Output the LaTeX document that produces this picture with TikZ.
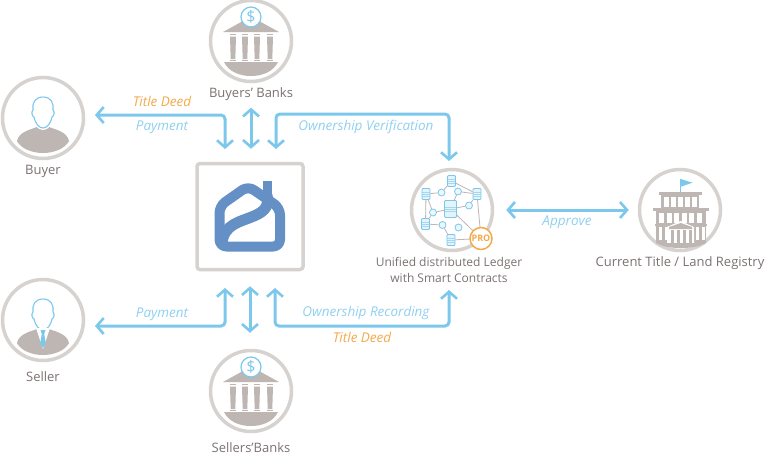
\documentclass[tikz,border=0pt]{standalone}
\usepackage{fontspec}
\setmainfont{Open Sans}
\usetikzlibrary{arrows.meta}
\definecolor{flowblue}{HTML}{7CC8EC}
\definecolor{lightblue}{HTML}{8FD0F0}
\definecolor{ringgrey}{HTML}{D6D2CF}
\definecolor{iconBrown}{HTML}{BDB6B2}
\definecolor{textgrey}{HTML}{7A7270}
\definecolor{deedorange}{HTML}{F4A94B}
\definecolor{logoblue}{HTML}{6490C5}
\tikzset{
  ring/.style={draw=ringgrey, line width=3.5pt, circle, fill=white, minimum size=81pt, inner sep=0pt},
  flow/.style={draw=flowblue, line width=3pt, rounded corners=4pt},
  caption/.style={text=textgrey, font=\fontsize{13}{16}\selectfont, align=center, inner sep=0pt},
  flowtext/.style={text=lightblue, font=\fontsize{13.5}{15}\selectfont\itshape, inner sep=0pt},
  deedtext/.style={text=deedorange, font=\fontsize{13.5}{15}\selectfont\itshape, inner sep=0pt},
  docnode/.style={draw=flowblue, fill=flowblue!20, line width=0.8pt, rounded corners=1pt, inner sep=0pt, minimum width=8pt, minimum height=11pt,
    path picture={\foreach \k in {-2,0,2} \draw[flowblue!70, line width=0.4pt] ([yshift=\k pt]path picture bounding box.west) -- ([yshift=\k pt]path picture bounding box.east);}},
  bigdoc/.style={docnode, minimum width=12pt, minimum height=17pt},
  coinnode/.style={draw=flowblue, fill=flowblue!15, line width=0.8pt, circle, inner sep=0pt, minimum size=7pt},
  personicon/.pic={
    \fill[iconBrown] (-26,23) .. controls (-24,14) and (-14,12) .. (-6,9) -- (6,9) .. controls (14,12) and (24,14) .. (26,23)
      .. controls (22,31) and (10,35) .. (0,35) .. controls (-10,35) and (-22,31) .. (-26,23) -- cycle;
    \draw[white, line width=4pt, fill=white] (0,-21) .. controls (-8,-21) and (-11,-15) .. (-10,-8) .. controls (-12,-6) and (-11,-2) .. (-9,-1)
      .. controls (-8,5) and (-4,10) .. (0,10) .. controls (4,10) and (8,5) .. (9,-1) .. controls (11,-2) and (12,-6) .. (10,-8)
      .. controls (11,-15) and (8,-21) .. (0,-21) -- cycle;
    \draw[flowblue, line width=1.1pt] (0,-21) .. controls (-8,-21) and (-11,-15) .. (-10,-8) .. controls (-12,-6) and (-11,-2) .. (-9,-1)
      .. controls (-8,5) and (-4,10) .. (0,10) .. controls (4,10) and (8,5) .. (9,-1) .. controls (11,-2) and (12,-6) .. (10,-8)
      .. controls (11,-15) and (8,-21) .. (0,-21) -- cycle;
  },
  tieicon/.pic={
    \fill[white] (-7,8) -- (0,29) -- (7,8) -- cycle;
    \fill[flowblue] (-2.5,10) -- (2.5,10) -- (1.2,14) -- (2.8,23) -- (0,28) -- (-2.8,23) -- (-1.2,14) -- cycle;
  },
  bankicon/.pic={
    \fill[iconBrown] (-28,-9) -- (-8,-20) -- (8,-20) -- (28,-9) -- cycle;
    \foreach \c in {-18,-6,6,19} {
      \fill[iconBrown] (\c-3,-7) rectangle (\c+3,-6);
      \fill[iconBrown] (\c-3,-4.5) -- (\c+3,-4.5) -- (\c+2.3,18) -- (\c-2.3,18) -- cycle;
      \fill[iconBrown] (\c-3,18.5) rectangle (\c+3,20);
    }
    \fill[iconBrown] (-27,21) -- (27,21) .. controls (22,31) and (11,35) .. (0,35) .. controls (-11,35) and (-22,31) .. (-27,21) -- cycle;
    \node[draw=flowblue, line width=1.2pt, fill=white, circle, minimum size=20pt, inner sep=0pt, text=flowblue, font=\fontsize{16}{16}\selectfont] (-coin) at (0,-24) {\$};
  }
}
\begin{document}
\begin{tikzpicture}[x=1pt, y=-1pt, >={Straight Barb[length=7pt,width=16pt,line width=2.6pt]}]
\useasboundingbox (0,0) rectangle (765,456);

% Parties round the centre
\node[ring] (buyer) at (43,118) {};
\pic at (buyer.center) {personicon};
\node[caption] (buyerlabel) at (43,171) {Buyer};

\node[ring] (seller) at (43,320) {};
\pic at (seller.center) {personicon};
\pic at (seller.center) {tieicon};
\node[caption] (sellerlabel) at (43,377) {Seller};

\node[ring] (buyersbank) at (251,41) {};
\pic at (buyersbank.center) {bankicon};
\node[caption] (buyersbanklabel) at (251,94) {Buyers’ Banks};

\node[ring] (sellersbank) at (251,391) {};
\pic at (sellersbank.center) {bankicon};
\node[caption] (sellersbanklabel) at (251,448) {Sellers’Banks};

% Logo in the centre
\node[draw=ringgrey, line width=3.5pt, rounded corners=3pt, fill=white, minimum size=106pt, inner sep=0pt] (logo) at (250,216.5) {};
\draw[logoblue, line width=10pt, line join=round, rounded corners=7pt] (219.5,230) -- (219.5,206) -- (248,186) -- (280,208) -- (280,246.5) -- (219.5,246.5) -- cycle;
\draw[logoblue, line width=9pt, rounded corners=2pt] (267,181) -- (267,206);
\draw[logoblue, line width=11pt] (222,243) .. controls (224,224) and (240,222) .. (254,216) .. controls (266,211) and (269,205) .. (267,195);

% Ledger with its network
\node[ring] (ledger) at (452,210) {};
\node[docnode] (doca) at (451.5,181) {};
\node[docnode] (docb) at (426,194) {};
\node[docnode] (docc) at (477,194) {};
\node[bigdoc] (docd) at (450.5,209) {};
\node[docnode] (doce) at (425.5,224) {};
\node[docnode] (docf) at (451,240) {};
\node[coinnode] (coina) at (441.5,192.5) {};
\node[coinnode] (coinb) at (458,191.5) {};
\node[coinnode] (coinc) at (469,205.5) {};
\node[coinnode] (coind) at (433,212.5) {};
\node[coinnode] (coine) at (442.5,225) {};
\node[coinnode] (coinf) at (458.5,227.5) {};
\node[draw=deedorange, line width=1.5pt, circle, fill=white, minimum size=22pt, inner sep=0pt, text=deedorange, font=\fontsize{9}{9}\selectfont\bfseries] (pro) at (481,238.5) {PRO};
\foreach \a/\b in {docb/coina,coina/doca,doca/docc,docb/doce,coinb/docd,coinb/docc,docd/coinc,coinc/docc,docd/coind,coind/docb,coind/doce,doce/coine,coine/docf,docf/pro,docd/pro,docc/pro}
  \draw[iconBrown, line width=0.8pt] (\a) -- (\b);
\node[caption, font=\fontsize{12}{16}\selectfont] (ledgerlabel) at (449,270) {Unified distributed Ledger\\with Smart Contracts};

% Registry building
\node[ring] (registry) at (680,210) {};
\draw[flowblue, line width=0.9pt] (680.7,179) -- (680.7,193);
\fill[flowblue] (680.7,179) -- (692.5,182.7) -- (680.7,186.7) -- cycle;
\fill[iconBrown] (659,192) rectangle (702,195);
\fill[iconBrown] (661,195) rectangle (699,208);
\foreach \w in {664,671,678,685,692} \fill[white] (\w,197) rectangle (\w+4.5,207);
\fill[iconBrown] (653,208) rectangle (709,211);
\fill[iconBrown] (656,211) rectangle (706,243);
\foreach \w in {659,666.5,674,681.5,689,696.5} \fill[white] (\w,213) rectangle (\w+5,223);
\fill[iconBrown] (655,224) rectangle (707,226);
\foreach \w in {659,664.5,696,701.5} \fill[white] (\w,227) rectangle (\w+3,240);
\fill[white] (667,227) -- (680.7,221) -- (694,227) -- (694,243) -- (667,243) -- cycle;
\fill[iconBrown] (669,227) -- (680.7,223) -- (692,227) -- (692,229) -- (669,229) -- cycle;
\foreach \w in {671,677,683,689} \fill[iconBrown] (\w,230) rectangle (\w+2.5,243);
\fill[iconBrown] (656,243) .. controls (664,247) and (672,248) .. (680.7,248) .. controls (690,248) and (698,247) .. (706,243) -- cycle;
\node[caption] (registrylabel) at (680,263) {Current Title / Land Registry};

% Free ends of the arrows
\coordinate (buyerend) at (95,115);
\coordinate (sellerend) at (95,326);
\coordinate (logoa) at (225,149);
\coordinate (logoc) at (276,149);
\coordinate (logod) at (225,288);
\coordinate (logof) at (275,288);
\coordinate (ledgertop) at (449,161);
\coordinate (ledgerbot) at (449,290);
\coordinate (verifcorner) at (449,114);
\coordinate (recordcorner) at (449,326);

% Arrows
\draw[flow, <->] (buyerend) -| (logoa);
\draw[flow, <->, shorten <=7pt, shorten >=13pt] (buyersbanklabel.south) -- (logo.north -| buyersbanklabel.south);
\draw[flow, <->] (logoc) |- (verifcorner) -- (ledgertop);
\draw[flow, <->] (sellerend) -| (logod);
\draw[flow, <->, shorten <=15pt, shorten >=16pt] (logo.south) -- (sellersbank.north -| logo.south);
\draw[flow, <->] (logof) |- (recordcorner) -- (ledgerbot);
\draw[flow, <->, shorten <=12pt, shorten >=9pt] (ledger.east) -- (registry.west);

% Arrow labels
\node[deedtext] (deedtop) at (162,101) {Title Deed};
\node[flowtext] (paytop) at (162,127) {Payment};
\node[flowtext] (verif) at (366,127) {Ownership Verification};
\node[flowtext] (approve) at (567,222) {Approve};
\node[flowtext] (paybot) at (162,314) {Payment};
\node[flowtext] (record) at (366,313) {Ownership Recording};
\node[deedtext] (deedbot) at (362,337) {Title Deed};
\end{tikzpicture}
\end{document}
